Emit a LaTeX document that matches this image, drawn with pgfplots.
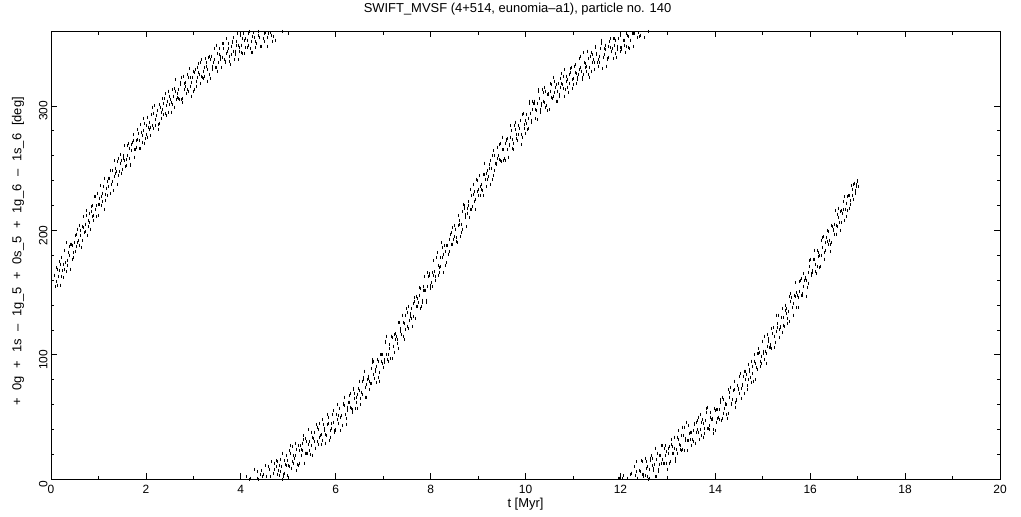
\documentclass[border=0pt]{standalone}
\usepackage{fontspec}
\setmainfont{Liberation Sans}
\usepackage{pgfplots}
\usepackage{pgfplotstable}
\pgfplotsset{compat=1.18}

% t [Myr], c = band centre (unwrapped, deg), p q r s = scatter of the samples (deg)
\pgfplotstableread{
t c p q r s
0.10 161 3 -6 9 -2
0.15 164 -8 5 -1 11
0.20 167 1 -11 6 -4
0.25 171 7 -3 -9 2
0.30 174 -5 10 0 -7
0.35 178 12 -2 -6 4
0.40 181 -1 6 -12 8
0.45 185 4 -8 3 -3
0.50 188 -10 2 8 -5
0.55 191 6 -4 -1 10
0.60 195 -3 9 -7 1
0.65 198 2 -12 5 -6
0.70 202 9 0 -4 3
0.75 205 -6 7 11 -9
0.80 208 0 -5 -2 6
0.85 212 -11 3 7 -1
0.90 215 5 -7 -3 12
0.95 219 -2 8 1 -8
1.00 222 8 -1 -10 4
1.05 225 -4 11 2 -5
1.10 229 1 -6 6 -12
1.15 232 10 -3 -8 2
1.20 235 -7 4 0 7
1.25 239 3 -9 9 -2
1.30 242 -5 6 -3 -10
1.35 245 11 -2 5 1
1.40 248 -1 7 -11 -4
1.45 252 6 -5 2 9
1.50 255 -9 1 -6 3
1.55 258 2 10 -2 -7
1.60 260 -3 -8 8 0
1.65 263 7 3 -5 -11
1.70 265 -12 -1 4 6
1.75 268 4 9 -9 -3
1.80 271 -6 -4 1 10
1.85 273 0 5 -7 -1
1.90 276 9 -10 3 -5
1.95 278 -2 2 12 -8
2.00 281 5 -7 -4 3
2.05 283 -8 8 0 -2
2.10 286 1 -3 -10 7
2.15 288 -4 11 6 -6
2.20 290 10 -6 -1 2
2.25 293 -1 3 -8 -12
2.30 295 6 -9 4 0
2.35 297 -7 0 9 -4
2.40 299 3 7 -5 11
2.45 302 -10 -2 2 -7
2.50 304 8 4 -3 1
2.55 306 -3 -11 7 -5
2.60 308 0 6 -9 4
2.65 309 12 -4 1 -2
2.70 311 -5 2 -6 8
2.75 313 4 -8 10 -10
2.80 315 -9 9 -2 3
2.85 317 2 -1 -7 -4
2.90 318 7 -6 5 12
2.95 320 -4 3 -12 -1
3.00 322 1 -10 6 5
3.05 324 -11 5 -4 -8
3.10 325 6 -2 2 9
3.15 327 -2 8 -9 -3
3.20 328 9 -5 0 -6
3.25 330 -6 1 8 2
3.30 332 3 -12 -3 7
3.35 333 -8 7 4 -11
3.40 335 5 -3 -6 0
3.45 336 -1 10 1 -5
3.50 338 11 -7 -10 4
3.55 339 -4 2 7 -2
3.60 340 0 -9 -1 10
3.65 342 8 4 -5 -7
3.70 343 -7 -1 11 1
3.75 344 2 6 -8 -4
3.80 345 -12 -4 3 6
3.85 346 6 9 -2 -9
3.90 347 -3 -6 5 2
3.95 348 10 1 -11 -1
4.00 349 -5 12 0 -6
4.05 350 4 -8 8 3
4.10 351 -9 3 -4 11
4.15 352 1 -5 6 -3
4.20 353 7 8 -7 -10
4.25 354 -2 -11 2 5
4.30 355 13 0 -3 -8
4.35 356 -6 5 10 1
4.40 357 3 -2 -9 7
4.45 358 -10 9 4 -4
4.50 359 5 -7 -1 12
4.55 360 -1 2 -12 -5
4.60 362 8 -4 6 0
4.65 363 -4 11 -6 -11
4.70 365 0 -9 3 8
4.75 366 -13 4 9 -2
4.80 368 6 -1 -5 3
4.85 369 -3 7 1 -9
4.90 370 11 -6 -8 5
4.95 372 -7 0 7 -1
5.00 373 2 -10 -2 10
5.05 375 -5 6 12 -6
5.10 377 9 -3 -4 2
5.15 379 -2 10 0 -12
5.20 380 4 -8 -9 7
5.25 382 -9 1 5 -3
5.30 384 0 5 -1 11
5.35 385 7 -12 8 -4
5.40 387 -6 3 -6 1
5.45 388 12 -5 2 -8
5.50 390 -3 8 -11 4
5.55 392 1 -2 6 -7
5.60 393 -8 11 -3 9
5.65 395 5 -7 10 -1
5.70 396 -1 0 -8 -5
5.75 398 10 6 1 3
5.80 400 -11 -4 -5 12
5.85 401 3 9 4 -10
5.90 403 -4 -9 -2 2
5.95 404 8 2 11 -6
6.00 406 -7 -6 -7 6
6.05 408 0 12 3 -3
6.10 411 6 -1 -12 0
6.15 413 -2 -10 7 8
6.20 415 11 4 -3 -11
6.25 418 -9 -3 0 4
6.30 420 2 7 9 -2
6.35 422 -5 -8 -6 10
6.40 424 9 1 5 -7
6.45 427 -1 -5 -10 1
6.50 429 4 10 2 -4
6.55 432 -12 -2 -4 7
6.60 435 7 5 12 -9
6.65 437 -3 -11 -1 3
6.70 440 1 3 -8 -1
6.75 443 -6 -6 6 11
6.80 446 10 9 -2 -5
6.85 449 -2 -1 -11 2
6.90 451 5 -9 4 -12
6.95 454 -8 6 1 6
7.00 457 3 -4 -7 -3
7.05 460 -4 11 10 0
7.10 463 12 -7 -3 -8
7.15 466 -1 2 -9 9
7.20 469 6 -12 5 -2
7.25 472 -10 4 0 5
7.30 475 0 -3 -6 -10
7.35 478 8 8 3 1
7.40 481 -5 -5 11 -6
7.45 484 2 1 -12 8
7.50 487 -7 10 7 -4
7.55 490 9 -9 -2 3
7.60 494 -3 3 -5 -11
7.65 497 4 -6 9 6
7.70 500 -11 7 -1 -1
7.75 504 1 -2 4 10
7.80 507 6 -10 -8 -5
7.85 510 -6 5 2 2
7.90 513 10 -1 -11 -9
7.95 517 -2 9 6 7
8.00 520 5 -7 -4 -2
8.05 524 -9 2 12 0
8.10 527 0 -4 -7 11
8.15 531 7 11 1 -7
8.20 534 -4 -8 -3 4
8.25 538 12 0 8 -12
8.30 542 -1 6 -10 1
8.35 545 3 -11 3 -4
8.40 549 -8 4 -6 8
8.45 552 6 -3 10 -3
8.50 556 -3 8 -1 5
8.55 560 1 -6 -9 -10
8.60 563 9 1 5 2
8.65 567 -12 -9 -2 -6
8.70 571 4 10 7 9
8.75 575 -5 -2 -12 -1
8.80 578 0 5 2 -8
8.85 582 11 -5 -5 6
8.90 586 -7 3 11 -3
8.95 589 2 -12 -4 12
9.00 593 -2 7 0 -5
9.05 596 8 -1 -8 1
9.10 599 -6 -7 6 -11
9.15 602 3 12 -1 4
9.20 605 -10 -4 3 -2
9.25 608 5 2 -11 8
9.30 611 -1 -10 9 -7
9.35 614 10 6 -6 0
9.40 617 -4 -3 1 10
9.45 620 0 9 -3 -4
9.50 623 7 -8 12 2
9.55 625 -9 0 -7 -9
9.60 628 2 5 4 6
9.65 630 -5 -11 -2 -1
9.70 632 12 3 8 -6
9.75 635 -2 -5 -10 9
9.80 637 4 10 0 -3
9.85 639 -7 -2 5 3
9.90 641 1 7 -4 -12
9.95 644 9 -9 10 1
10.00 646 -4 2 -8 7
10.05 647 -1 -6 3 -5
10.10 656 6 8 -2 -9
10.15 658 -10 -1 6 4
10.20 659 3 5 -9 -2
10.25 661 -5 -12 1 11
10.30 662 11 4 -5 -7
10.35 664 -2 -4 9 0
10.40 666 5 9 -3 6
10.45 667 -8 -7 2 -11
10.50 669 0 1 -12 3
10.55 670 8 -3 7 -4
10.60 672 -4 11 -1 8
10.65 673 2 -9 4 -1
10.70 675 -11 3 -7 -6
10.75 676 6 -1 10 2
10.80 678 -1 6 -4 -10
10.85 679 10 -6 1 5
10.90 681 -6 0 -10 -3
10.95 682 3 8 5 9
11.00 684 -3 -10 -2 -7
11.05 685 7 2 8 1
11.10 687 -9 -4 -6 -2
11.15 688 1 10 3 12
11.20 690 -2 -7 -9 -5
11.25 691 12 4 0 3
11.30 693 -5 -1 11 -8
11.35 694 4 -11 -3 6
11.40 696 -8 7 5 -1
11.45 697 0 -2 -8 10
11.50 699 9 3 2 -4
11.55 700 -3 -8 -5 0
11.60 701 5 12 9 -11
11.65 702 -12 -3 -1 4
11.70 703 2 6 -11 -6
11.75 704 -6 -5 4 8
11.80 706 8 1 -2 -2
11.85 707 -1 -9 7 2
11.90 708 6 5 -6 -9
11.95 709 -4 -1 12 5
12.00 710 11 -6 -3 -3
12.05 712 -7 9 1 11
12.10 713 0 -4 -10 -5
12.15 715 3 2 6 1
12.20 717 -10 -11 -4 7
12.25 718 7 7 0 -10
12.30 720 -2 -2 10 3
12.35 722 12 4 -7 -1
12.40 724 -5 -8 3 -7
12.45 725 1 10 -1 9
12.50 727 -3 -5 -12 -4
12.55 728 9 1 6 2
12.60 730 -8 -10 -2 -9
12.65 731 4 6 8 6
12.70 732 -1 -3 -5 0
12.75 734 -12 11 2 -12
12.80 735 6 -7 -9 4
12.85 736 -4 3 11 -3
12.90 737 10 -1 -4 8
12.95 739 -6 8 0 -6
13.00 740 2 -12 5 1
13.05 742 -9 4 -8 10
13.10 743 5 -2 3 -2
13.15 745 0 9 -11 -8
13.20 747 -3 -6 7 5
13.25 748 11 0 -1 -4
13.30 750 -7 5 -6 12
13.35 752 3 -9 10 -1
13.40 754 -1 12 -3 -11
13.45 755 8 -4 2 3
13.50 757 -5 1 -10 -5
13.55 758 1 -8 6 7
13.60 760 -11 6 -2 0
13.65 761 6 -3 9 -9
13.70 762 -2 10 -7 4
13.75 764 4 -10 1 -3
13.80 765 -8 2 12 9
13.85 766 12 -5 -5 -6
13.90 767 -4 7 3 1
13.95 769 0 -1 -9 -12
14.00 770 7 -11 5 6
14.05 772 -6 4 -3 -2
14.10 774 2 -6 10 8
14.15 777 -10 9 -8 -4
14.20 779 5 -2 1 2
14.25 781 -1 -9 -12 -8
14.30 783 9 3 7 11
14.35 785 -5 -4 -1 -1
14.40 788 3 11 4 -10
14.45 790 -8 -7 -6 5
14.50 792 0 1 11 -3
14.55 795 10 -10 -2 1
14.60 798 -3 5 -9 9
14.65 801 6 -1 3 -6
14.70 804 -12 8 -4 3
14.75 807 1 -5 8 -9
14.80 809 -4 2 -10 6
14.85 812 8 -12 1 -2
14.90 815 -7 6 6 10
14.95 818 4 -3 -7 -5
15.00 821 -2 10 2 0
15.05 824 11 -8 -1 -11
15.10 827 -6 0 9 4
15.15 831 2 -5 -5 -3
15.20 834 -9 7 3 8
15.25 837 5 -2 -11 -7
15.30 840 -1 12 5 2
15.35 843 9 -9 -3 -1
15.40 847 -4 3 10 -9
15.45 850 0 -6 -7 6
15.50 853 7 4 0 -4
15.55 856 -11 -1 -9 11
15.60 860 3 9 6 -2
15.65 863 -5 -11 -2 5
15.70 866 12 1 4 -8
15.75 870 -2 -4 -12 1
15.80 873 6 7 8 -5
15.85 876 -8 -7 -1 9
15.90 879 1 2 3 -12
15.95 883 -3 -9 -6 3
16.00 886 10 5 11 -1
16.05 890 -6 -2 -4 7
16.10 893 4 11 0 -6
16.15 897 -12 -6 7 2
16.20 900 2 0 -10 -9
16.25 904 -4 8 2 10
16.30 907 8 -10 -5 -3
16.35 911 -1 3 9 0
16.40 914 5 -5 -2 -11
16.45 918 -9 6 -8 5
16.50 921 0 -1 4 -4
16.55 925 11 -8 -1 8
16.60 928 -5 2 10 -2
16.65 932 3 -12 -6 4
16.70 936 -2 7 1 -8
16.75 940 7 -3 -9 2
16.80 943 -7 4 5 -5
16.85 947 1 -6 -3 9
16.90 951 -3 2 6 -6
16.95 954 4 -4 -2 1
17.00 958 -1 1 2 -3
}\band

\pgfplotsset{
  pts/.style={only marks, mark=|, mark size=1.5bp, black,
    line width=1bp, restrict y to domain=0:360, forget plot},
}

% one scatter column, wrapped into 0..360
\newcommand{\bandcol}[2]{%
  \addplot[pts] table[x expr=\thisrow{t}+#2, y expr=\thisrow{c}+\thisrow{#1}] {\band};
  \addplot[pts] table[x expr=\thisrow{t}+#2, y expr=\thisrow{c}+\thisrow{#1}-360] {\band};
  \addplot[pts] table[x expr=\thisrow{t}+#2, y expr=\thisrow{c}+\thisrow{#1}-720] {\band};
}

\newcommand{\ylab}{\spaceskip=0.6em\relax + 0g + 1s -- 1g\_5 + 0s\_5 + 1g\_6 -- 1s\_6 [deg]}

\begin{document}
\begin{tikzpicture}
\begin{axis}[
    name=ax,
    width=949bp, height=448bp, scale only axis,
    xmin=0, xmax=20, ymin=0, ymax=360,
    xtick={0,2,...,20}, ytick={0,100,200,300},
    minor x tick num=1, minor y tick num=4,
    tick align=inside, xtick pos=both, ytick pos=both,
    major tick length=6bp, minor tick length=3.5bp,
    axis line style={line width=0.8bp},
    every tick/.style={black, line width=0.8bp},
    /pgf/number format/assume math mode=true,
    ticklabel style={font=\fontsize{12}{14}\selectfont},
    xticklabel style={yshift=-2bp},
    yticklabel style={rotate=90, anchor=south, xshift=-5bp},
    title={SWIFT\_MVSF (4+514, eunomia--a1), particle no. 140},
    title style={font=\fontsize{13}{15}\selectfont, at={(0.5,1)}, anchor=center, yshift=16bp, xshift=-8bp},
    xlabel={t [Myr]},
    xlabel style={font=\fontsize{13}{15}\selectfont, at={(0.5,0)}, anchor=center, yshift=-25bp},
    ylabel={\ylab},
    ylabel style={font=\fontsize{13}{15}\selectfont, at={(axis description cs:-0.0348,0.509)}, anchor=center},
]
\bandcol{p}{-0.019}
\bandcol{q}{-0.006}
\bandcol{r}{0.006}
\bandcol{s}{0.019}
\end{axis}
\path ([xshift=-51bp,yshift=-37bp]ax.south west) rectangle ([xshift=21bp,yshift=26bp]ax.north east);
\end{tikzpicture}
\end{document}
